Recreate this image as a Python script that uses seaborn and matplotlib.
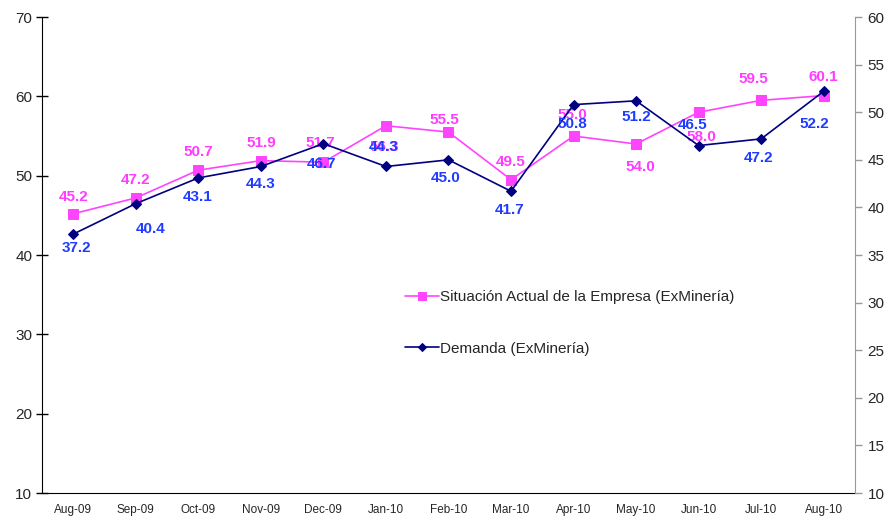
import numpy as np
import matplotlib.pyplot as plt
import seaborn as sns
import pandas as pd

# data
months = ['Aug-09', 'Sep-09', 'Oct-09', 'Nov-09', 'Dec-09', 'Jan-10', 'Feb-10',
          'Mar-10', 'Apr-10', 'May-10', 'Jun-10', 'Jul-10', 'Aug-10']
situacion = [45.2, 47.2, 50.7, 51.9, 51.7, 56.3, 55.5, 49.5, 55.0, 54.0, 58.0, 59.5, 60.1]
demanda = [37.2, 40.4, 43.1, 44.3, 46.7, 44.3, 45.0, 41.7, 50.8, 51.2, 46.5, 47.2, 52.2]

# label offsets in pixels (dx, dy), as placed in the original
off_sit = [(0, 17), (0, 18), (0, 18), (0, 18), (-3, 19), (-2, -21), (-4, 12),
           (0, 18), (-1, 21), (4, -23), (3, -25), (-8, 21), (0, 19)]
off_dem = [(3, -14), (15, -25), (-1, -19), (0, -18), (-2, -20), (-2, 19), (-3, -18),
           (-1, -19), (-1, -19), (0, -16), (-6, 21), (-3, -19), (-9, -33)]

pink = '#ff44ff'
pink_txt = '#ff3cff'
navy = '#000080'
blue_txt = '#1f3cff'

sns.set_style('white')
plt.rcParams['font.family'] = ['Liberation Sans', 'DejaVu Sans']

df = pd.DataFrame({'mes': months, 'x': np.arange(len(months)),
                   'situacion': situacion, 'demanda': demanda})

fig = plt.figure(figsize=(8.88, 5.21), dpi=100)
ax = fig.add_axes([0.0473, 0.0537, 0.9155, 0.9136])
ax2 = ax.twinx()

sns.lineplot(data=df, x='x', y='situacion', ax=ax, color=pink, lw=1.2,
             marker='s', markersize=7, markeredgecolor=pink,
             label='Situación Actual de la Empresa (ExMinería)', legend=False)
sns.lineplot(data=df, x='x', y='demanda', ax=ax2, color=navy, lw=1.2,
             marker='D', markersize=5, markeredgecolor=navy,
             label='Demanda (ExMinería)', legend=False)

for i, v in enumerate(situacion):
    ax.annotate(f'{v:.1f}', (i, v), xytext=off_sit[i], textcoords='offset pixels',
                ha='center', va='center', color=pink_txt, fontsize=11, fontweight='bold')
for i, v in enumerate(demanda):
    ax2.annotate(f'{v:.1f}', (i, v), xytext=off_dem[i], textcoords='offset pixels',
                 ha='center', va='center', color=blue_txt, fontsize=11, fontweight='bold')

ax.set_xlim(-0.5, len(months) - 0.5)
ax.set_ylim(10, 70)
ax2.set_ylim(10, 60)
ax.set_yticks(range(10, 71, 10))
ax2.set_yticks(range(10, 61, 5))

# category labels centered, ticks on the boundaries
ax.set_xticks(np.arange(len(months)))
ax.set_xticklabels(months, fontsize=8.5)
ax.set_xticks(np.arange(len(months) + 1) - 0.5, minor=True)
ax.tick_params(axis='x', which='major', length=0, pad=8)
ax.tick_params(axis='x', which='minor', direction='inout', length=8, width=1, color='black')
ax.tick_params(axis='y', direction='inout', length=8, width=1, color='black',
               labelsize=11, pad=3)
ax2.tick_params(axis='y', direction='out', length=5, width=1, color='#999999',
                labelsize=11, pad=4)

ax.set_xlabel('')
ax.set_ylabel('')
ax2.set_ylabel('')

for a in (ax, ax2):
    a.spines['top'].set_visible(False)
ax.spines['left'].set_color('black')
ax.spines['bottom'].set_color('black')
ax.spines['right'].set_visible(False)
ax2.spines['left'].set_visible(False)
ax2.spines['bottom'].set_visible(False)
ax2.spines['right'].set_color('#999999')

h1, l1 = ax.get_legend_handles_labels()
h2, l2 = ax2.get_legend_handles_labels()
ax2.legend(h1 + h2, l1 + l2, loc='upper left', bbox_to_anchor=(0.43, 0.455),
           frameon=False, fontsize=11, handlelength=2.2, handletextpad=0.1,
           labelspacing=2.45, markerscale=0.8)

fig.savefig('out.png', dpi=100)
